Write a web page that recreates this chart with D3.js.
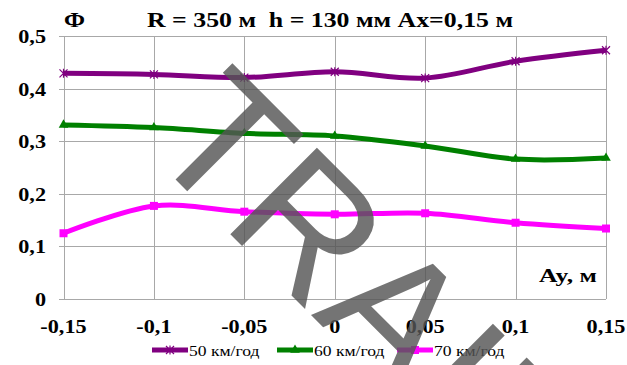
<!DOCTYPE html>
<html>
<head>
<meta charset="utf-8">
<script src="https://cdn.jsdelivr.net/npm/d3@7"></script>
<style>
  body { margin: 0; background: #fff; }
  svg { display: block; }
</style>
</head>
<body>
<div id="chart"></div>
<script>
// chart data
var xValues = [-0.15, -0.1, -0.05, 0, 0.05, 0.1, 0.15];
var xTicks = [-0.15, -0.1, -0.05, 0, 0.05, 0.1, 0.15];
var yTicks = [0, 0.1, 0.2, 0.3, 0.4, 0.5];
var seriesNames = ["50 км/год", "60 км/год", "70 км/год"];
var speed50 = [0.429, 0.427, 0.421, 0.432, 0.420, 0.452, 0.473];
var speed60 = [0.331, 0.326, 0.315, 0.310, 0.291, 0.266, 0.268];
var speed70 = [0.125, 0.177, 0.166, 0.161, 0.163, 0.145, 0.134];
var seriesColors = ["#800080", "#008000", "#ff00ff"];
var seriesMarkers = ["star", "triangle", "square"];

var width = 627, height = 365,
    plotLeft = 63.5, plotRight = 606,
    plotTop = 36, plotBottom = 299,
    sx = 1.17; // text in the picture is a bit wider than tall

var serif = "Liberation Serif";

var svg = d3.select("#chart").append("svg")
  .attr("width", width)
  .attr("height", height);

var x = d3.scaleLinear().domain([-0.15, 0.15]).range([plotLeft, plotRight]);
var y = d3.scaleLinear().domain([0, 0.5]).range([plotBottom, plotTop]);

var fmt = function(v) {
  return String(+v.toFixed(2)).replace(".", ",");
};

// stretched text helper
function label(px, py, str, size, weight, anchor) {
  return svg.append("text")
    .attr("transform", "translate(" + px + "," + py + ") scale(" + sx + ",1)")
    .attr("text-anchor", anchor || "start")
    .attr("font-size", size)
    .attr("font-weight", weight || "normal")
    .attr("font-family", serif)
    .attr("fill", "#000")
    .text(str);
}

// text fitted to a given width
function fitted(px, py, str, size, w) {
  return svg.append("text")
    .attr("x", px).attr("y", py)
    .attr("font-size", size)
    .attr("font-weight", "bold")
    .attr("font-family", serif)
    .attr("textLength", w)
    .attr("lengthAdjust", "spacingAndGlyphs")
    .attr("xml:space", "preserve")
    .attr("fill", "#000")
    .text(str);
}

// grid
var grid = svg.append("g").attr("stroke", "#a8a8a8").attr("stroke-width", 1).attr("shape-rendering", "crispEdges");
grid.selectAll("line.h").data(yTicks).enter().append("line")
  .attr("x1", plotLeft - 5).attr("x2", plotRight)
  .attr("y1", function(d) { return Math.round(y(d)) + 0.5; })
  .attr("y2", function(d) { return Math.round(y(d)) + 0.5; });
grid.selectAll("line.v").data(xTicks).enter().append("line")
  .attr("y1", plotTop).attr("y2", plotBottom)
  .attr("x1", function(d) { return Math.round(x(d)) + 0.5; })
  .attr("x2", function(d) { return Math.round(x(d)) + 0.5; });

// tick labels
yTicks.forEach(function(t) {
  label(46, y(t) + 7, fmt(t), 19, "bold", "end");
});
xTicks.forEach(function(t) {
  label(x(t), 333, fmt(t), 19, "bold", "middle");
});

// titles
fitted(64, 27, "Ф", 20, 21);
fitted(147, 27, "R = 350 м  h = 130 мм Ax=0,15 м", 20, 366);
fitted(539, 282, "Ay, м", 19, 58);

// marker shapes
function marker(g, kind, color, cx, cy) {
  if (kind === "star") {
    g.append("path")
      .attr("d", "M-4,-4L4,4M-4,4L4,-4M0,-4.5L0,4.5")
      .attr("transform", "translate(" + cx + "," + cy + ")")
      .attr("stroke", color).attr("stroke-width", 1.2).attr("fill", "none");
  } else if (kind === "triangle") {
    g.append("path")
      .attr("d", d3.symbol().type(d3.symbolTriangle).size(40)())
      .attr("transform", "translate(" + cx + "," + cy + ")")
      .attr("fill", color);
  } else {
    g.append("rect")
      .attr("x", cx - 4).attr("y", cy - 4)
      .attr("width", 8).attr("height", 8)
      .attr("fill", color);
  }
}

var allSeries = [speed50, speed60, speed70];
var line = d3.line()
  .x(function(d, i) { return x(xValues[i]); })
  .y(function(d) { return y(d); })
  .curve(d3.curveCardinal.tension(0));

allSeries.forEach(function(vals, k) {
  var g = svg.append("g");
  g.append("path")
    .attr("d", line(vals))
    .attr("fill", "none")
    .attr("stroke", seriesColors[k])
    .attr("stroke-width", 5)
    .attr("stroke-linejoin", "round");
  vals.forEach(function(v, i) {
    marker(g, seriesMarkers[k], seriesColors[k], x(xValues[i]), y(v));
  });
});

// legend
var legendX = [152, 277, 397];
seriesNames.forEach(function(name, k) {
  var g = svg.append("g");
  g.append("line")
    .attr("x1", legendX[k]).attr("x2", legendX[k] + 36)
    .attr("y1", 350).attr("y2", 350)
    .attr("stroke", seriesColors[k]).attr("stroke-width", 5);
  marker(g, seriesMarkers[k], seriesColors[k], legendX[k] + 18, 350);
  label(legendX[k] + 37, 356, name, 15, "normal");
});

// watermark
svg.append("text")
  .attr("transform", "translate(143,147) rotate(45)")
  .attr("font-size", 178)
  .attr("font-family", "Liberation Sans")
  .attr("fill", "#555")
  .attr("fill-opacity", 0.82)
  .text("TRAIL");
</script>
</body>
</html>
